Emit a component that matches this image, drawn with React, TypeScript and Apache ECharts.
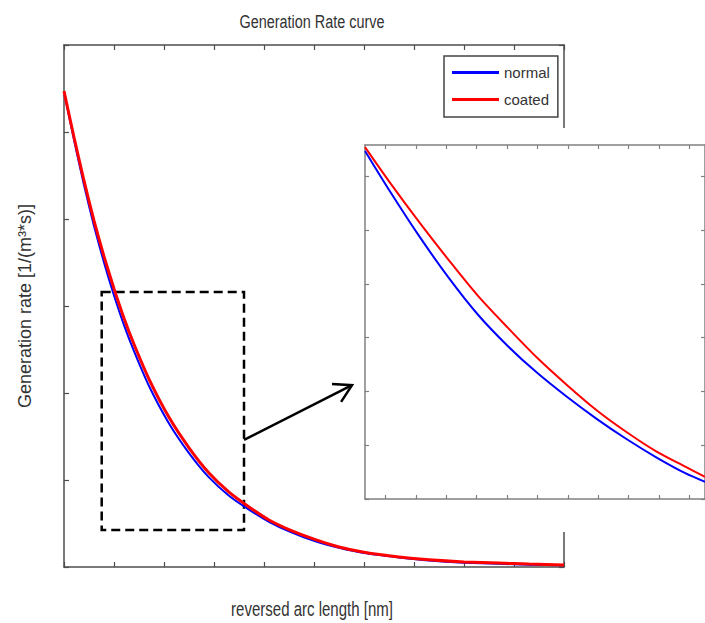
import React, { useEffect, useRef } from "react";
import * as echarts from "echarts";

// ---- main plot data (reversed arc length, generation rate in plot units) ----
const mainX = [0, 2, 4, 6, 8, 10, 12, 14, 17, 21, 25, 29, 33, 37, 41, 45, 50, 55, 60, 67, 73, 80, 87, 93, 100];
const mainNormal = [5.46, 4.91, 4.39, 3.92, 3.5, 3.12, 2.78, 2.48, 2.08, 1.65, 1.31, 1.03, 0.82, 0.66, 0.52, 0.41, 0.3, 0.22, 0.16, 0.11, 0.075, 0.05, 0.037, 0.026, 0.02];
const mainCoated = [5.47, 4.94, 4.44, 3.98, 3.57, 3.2, 2.86, 2.56, 2.16, 1.72, 1.37, 1.08, 0.86, 0.69, 0.54, 0.43, 0.32, 0.23, 0.17, 0.115, 0.082, 0.058, 0.045, 0.034, 0.024];

// ---- inset (zoomed) data ----
const insetX = [-0.68, 0.13, 1.1, 2.08, 3.05, 4.03, 5.0, 5.97, 6.95, 7.92, 8.9, 9.87, 10.52];
const insetNormal = [6.47, 5.73, 4.89, 4.11, 3.42, 2.84, 2.34, 1.9, 1.49, 1.12, 0.78, 0.48, 0.32];
const insetCoated = [6.54, 5.89, 5.15, 4.44, 3.77, 3.18, 2.62, 2.12, 1.65, 1.25, 0.89, 0.6, 0.41];
const insetXTicks = [0, 1, 2, 3, 4, 5, 6, 7, 8, 9, 10];
const insetYTicks = [0, 1, 2, 3, 4, 5, 6];
const insetYMax = 6.58;

// ---- zoom box (in main-plot units) and arrow ----
const zoomBoxX = [7.54, 36.0];
const zoomBoxY = [0.425, 3.16];
const arrowFrom = [36.0, 1.46];
const arrowTo = [57.6, 2.09];

const legendNames = ["normal", "coated"];
const titleText = "Generation Rate curve";
const xName = "reversed arc length [nm]";
const yName = "Generation rate [1/(m\u00B3*s)]";

const REG = '"Liberation Sans", Arial, sans-serif';
const TXT = "#333333";
const BLUE = "#0000ff";
const RED = "#ff0000";

export default function App() {
  const ref = useRef<HTMLDivElement>(null);
  useEffect(() => {
    if (!ref.current) return;
    const chart = echarts.init(ref.current, null, { renderer: "svg" });
    const mainAxisLine = { show: true, onZero: false, lineStyle: { color: "#4d4d4d", width: 1.5 } };
    const mainTick = { show: true, inside: true, length: 5, lineStyle: { color: "#4d4d4d", width: 1.2 } };
    const insetAxisLine = { show: true, onZero: false, lineStyle: { color: "#808080", width: 1.5 } };
    const insetTick = { show: true, inside: true, length: 4, lineStyle: { color: "#808080", width: 1.2 } };
    const xMainBase = { type: "value", gridIndex: 0, min: 0, max: 100, interval: 10, axisLine: mainAxisLine, axisTick: mainTick, axisLabel: { show: false }, splitLine: { show: false }, z: 1 };
    const yMainBase = { type: "value", gridIndex: 0, min: 0, max: 6, interval: 1, axisLine: mainAxisLine, axisTick: mainTick, axisLabel: { show: false }, splitLine: { show: false }, z: 1 };
    const xInsetBase = { type: "value", gridIndex: 1, min: insetX[0], max: insetX[insetX.length - 1], axisLine: insetAxisLine, axisTick: { ...insetTick, customValues: insetXTicks }, axisLabel: { show: false }, splitLine: { show: false }, z: 20 };
    const yInsetBase = { type: "value", gridIndex: 1, min: 0, max: insetYMax, axisLine: insetAxisLine, axisTick: { ...insetTick, customValues: insetYTicks }, axisLabel: { show: false }, splitLine: { show: false }, z: 20 };

    const option: any = {
      animation: false,
      backgroundColor: "#ffffff",
      legend: {
        data: legendNames,
        orient: "vertical",
        left: 444,
        top: 56,
        padding: [9, 8, 10, 8],
        itemGap: 12,
        itemWidth: 47,
        itemHeight: 3,
        icon: "rect",
        borderColor: "#444444",
        borderWidth: 1.5,
        backgroundColor: "#ffffff",
        textStyle: { fontFamily: REG, fontSize: 15, color: TXT },
        z: 30,
      },
      grid: [
        { left: 64, top: 45, width: 500, height: 522 },
        { left: 365, top: 145, width: 345, height: 354 },
      ],
      xAxis: [
        { ...xMainBase, position: "bottom" },
        { ...xMainBase, position: "top" },
        { ...xInsetBase, position: "bottom" },
        { ...xInsetBase, position: "top" },
      ],
      yAxis: [
        { ...yMainBase, position: "left", name: yName, nameLocation: "middle", nameGap: 30, nameTextStyle: { fontFamily: REG, fontSize: 18, color: TXT } },
        { ...yMainBase, position: "right" },
        { ...yInsetBase, position: "left" },
        { ...yInsetBase, position: "right" },
      ],
      series: [
        {
          name: legendNames[0],
          type: "line",
          xAxisIndex: 0,
          yAxisIndex: 0,
          data: mainX.map((x, i) => [x, mainNormal[i]]),
          smooth: 0.2,
          showSymbol: false,
          lineStyle: { color: BLUE, width: 2 },
          itemStyle: { color: BLUE },
          z: 2,
          markArea: {
            silent: true,
            itemStyle: { color: "rgba(0,0,0,0)", borderColor: "#000000", borderWidth: 2.5, borderType: [9, 5] },
            data: [[{ coord: [zoomBoxX[0], zoomBoxY[1]] }, { coord: [zoomBoxX[1], zoomBoxY[0]] }]],
          },
        },
        {
          name: legendNames[1],
          type: "line",
          xAxisIndex: 0,
          yAxisIndex: 0,
          data: mainX.map((x, i) => [x, mainCoated[i]]),
          smooth: 0.2,
          showSymbol: false,
          lineStyle: { color: RED, width: 3 },
          itemStyle: { color: RED },
          z: 3,
        },
        {
          name: legendNames[0],
          type: "line",
          xAxisIndex: 2,
          yAxisIndex: 2,
          data: insetX.map((x, i) => [x, insetNormal[i]]),
          smooth: 0.3,
          showSymbol: false,
          lineStyle: { color: BLUE, width: 2 },
          itemStyle: { color: BLUE },
          z: 21,
        },
        {
          name: legendNames[1],
          type: "line",
          xAxisIndex: 2,
          yAxisIndex: 2,
          data: insetX.map((x, i) => [x, insetCoated[i]]),
          smooth: 0.3,
          showSymbol: false,
          lineStyle: { color: RED, width: 2 },
          itemStyle: { color: RED },
          z: 22,
        },
      ],
    };
    chart.setOption(option);

    const p0 = chart.convertToPixel({ gridIndex: 0 }, arrowFrom) as number[];
    const p1 = chart.convertToPixel({ gridIndex: 0 }, arrowTo) as number[];
    const ang = Math.atan2(p1[1] - p0[1], p1[0] - p0[0]);
    const head = 20;
    const spread = (30 * Math.PI) / 180;
    const b1 = [p1[0] - head * Math.cos(ang - spread), p1[1] - head * Math.sin(ang - spread)];
    const b2 = [p1[0] - head * Math.cos(ang + spread), p1[1] - head * Math.sin(ang + spread)];
    const tl = chart.convertToPixel({ gridIndex: 1 }, [insetX[0], insetYMax]) as number[];
    const br = chart.convertToPixel({ gridIndex: 1 }, [insetX[insetX.length - 1], 0]) as number[];
    const mainTL = chart.convertToPixel({ gridIndex: 0 }, [0, 6]) as number[];
    const mainBR = chart.convertToPixel({ gridIndex: 0 }, [100, 0]) as number[];
    const midX = (mainTL[0] + mainBR[0]) / 2 - 2;

    chart.setOption({
      graphic: [
        {
          type: "rect",
          z: 10,
          silent: true,
          shape: { x: tl[0] - 7, y: tl[1] - 17, width: br[0] - tl[0] + 20, height: br[1] - tl[1] + 50 },
          style: { fill: "#ffffff" },
        },
        {
          type: "line",
          z: 25,
          silent: true,
          shape: { x1: p0[0], y1: p0[1], x2: p1[0], y2: p1[1] },
          style: { stroke: "#000000", lineWidth: 2.5 },
        },
        {
          type: "polyline",
          z: 25,
          silent: true,
          shape: { points: [b1, p1, b2] },
          style: { stroke: "#000000", lineWidth: 2.5, fill: null },
        },
        {
          type: "text",
          z: 30,
          x: midX,
          y: mainTL[1] - 23,
          scaleX: 0.76,
          silent: true,
          style: { text: titleText, fontFamily: REG, fontSize: 19, fill: TXT, textAlign: "center", textVerticalAlign: "middle" },
        },
        {
          type: "text",
          z: 30,
          x: midX,
          y: mainBR[1] + 42,
          scaleX: 0.77,
          silent: true,
          style: { text: xName, fontFamily: REG, fontSize: 19.5, fill: TXT, textAlign: "center", textVerticalAlign: "middle" },
        },
      ],
    });

    return () => chart.dispose();
  }, []);
  return <div ref={ref} style={{ position: "absolute", left: 0, top: 0, width: 705, height: 623 }} />;
}
